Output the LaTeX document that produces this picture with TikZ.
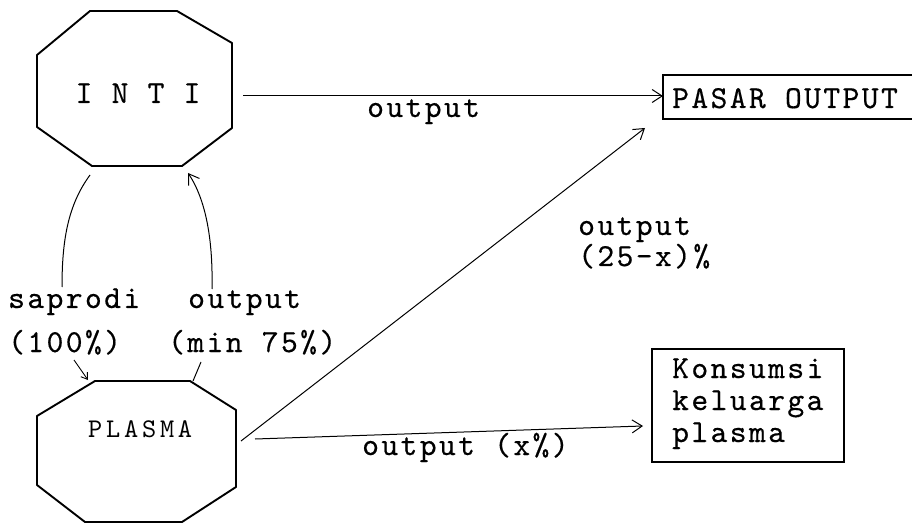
\documentclass[tikz,border=0pt]{standalone}
\usepackage{fontspec}
\newfontfamily\twfont{lmmono10-regular.otf}[LetterSpace=7.5,FakeBold=0.4]
\newfontfamily\twfontb{lmmono10-regular.otf}[LetterSpace=14]
\usetikzlibrary{arrows.meta,calc}
\tikzset{
  tw/.style={font=\twfont\fontsize{32}{32}\selectfont, inner sep=0pt, anchor=base west},
  octo/.style={line width=1.9pt, line join=round},
  boxx/.style={draw, line width=1.6pt, inner sep=0pt, outer sep=0pt},
  conn/.style={line width=1pt, -{Straight Barb[length=10pt,width=13pt,line width=1pt]}},
  plain/.style={line width=1pt},
  small/.style={line width=0.9pt, -{Straight Barb[length=6pt,width=8pt,line width=0.9pt]}}
}
\begin{document}
\begin{tikzpicture}[x=1pt,y=-1pt]
\useasboundingbox (0,0) rectangle (912,526);

% INTI octagon
\draw[octo] (90,11) -- (177,11) -- (232,43) -- (232,128) -- (182,166) -- (92,166) -- (37,127) -- (37,55) -- cycle;
\node[tw, anchor=base] (inti) at (138,103) {I N T I};
\coordinate (intiR) at (243,96);
\coordinate (intiBL) at (90,175);
\coordinate (intiBR) at (188,173);

% PLASMA octagon
\draw[octo] (95,381) -- (190,381) -- (236,410) -- (236,487) -- (182,522) -- (85,522) -- (37,485) -- (37,416) -- cycle;
\node[tw, anchor=base west, font=\twfontb\fontsize{27}{27}\selectfont] (plasma) at (88,437) {PLASMA};
\coordinate (plasmaR1) at (241,441);
\coordinate (plasmaR2) at (255,439);
\coordinate (plasmaTL) at (88,380);
\coordinate (plasmaTR) at (193,381);

% boxes
\node[boxx, minimum width=252pt, minimum height=44pt, anchor=north west] (pasar) at (663,75) {};
\node[tw] (pasarT) at (672,108) {PASAR OUTPUT};
\node[boxx, minimum width=192pt, minimum height=113pt, anchor=north west] (kons) at (652,349) {};
\node[tw] (k1) at (672,378) {Konsumsi};
\node[tw] (k2) at (672,410) {keluarga};
\node[tw] (k3) at (672,442) {plasma};

% labels
\node[tw] (lOut1) at (367,117) {output};
\node[tw] (lOut2) at (578,235) {output};
\node[tw] (lOut2b) at (578,266) {(25-x)\%};
\node[tw] (lSap) at (8,308) {saprodi};
\node[tw] (lOut3) at (188,308) {output};
\node[tw] (l100) at (8,352) {(100\%)};
\node[tw] (lMin) at (168,352) {(min 75\%)};
\node[tw] (lX) at (362,455) {output (x\%)};

% connectors
\draw[conn] (intiR) -- (pasar.west |- intiR);
\coordinate (diagEnd) at (645,128);
\draw[conn] (plasmaR1) -- (diagEnd);
\coordinate (konsIn) at (643,426);
\draw[conn] (plasmaR2) -- (konsIn);

\coordinate (sapEnd) at (62,287);
\draw[plain] (intiBL) .. controls (68,205) and (62,240) .. (sapEnd);
\coordinate (outStart) at (212,289);
\draw[conn] (outStart) .. controls (213,240) and (206,200) .. (intiBR);

\coordinate (p100) at (74,360);
\draw[small] (p100) -- (plasmaTL);
\coordinate (pMin) at (201,362);
\draw[plain] (plasmaTR) -- (pMin);
\end{tikzpicture}
\end{document}
